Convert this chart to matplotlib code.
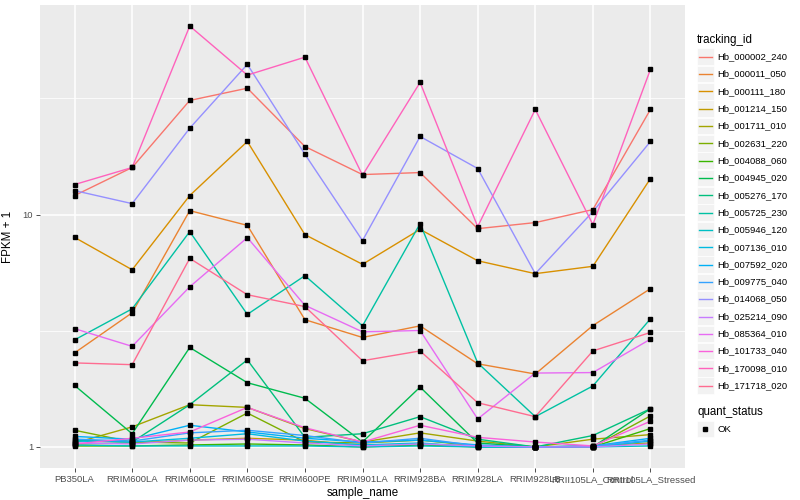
import matplotlib
matplotlib.use("Agg")
import matplotlib.pyplot as plt
from matplotlib.lines import Line2D
from matplotlib.patches import Rectangle
import numpy as np

plt.rcParams['font.family'] = ['Liberation Sans', 'DejaVu Sans']

samples = ["PB350LA", "RRIM600LA", "RRIM600LE", "RRIM600SE", "RRIM600PE", "RRIM901LA",
           "RRIM928BA", "RRIM928LA", "RRIM928LB", "RRII105LA_Control", "RRII105LA_Stressed"]

tracking_ids = ["Hb_000002_240", "Hb_000011_050", "Hb_000111_180", "Hb_001214_150",
                "Hb_001711_010", "Hb_002631_220", "Hb_004088_060", "Hb_004945_020",
                "Hb_005276_170", "Hb_005725_230", "Hb_005946_120", "Hb_007136_010",
                "Hb_007592_020", "Hb_009775_040", "Hb_014068_050", "Hb_025214_090",
                "Hb_085364_010", "Hb_101733_040", "Hb_170098_010", "Hb_171718_020"]

colors = ["#F8766D", "#EA8331", "#D89000", "#C09B00", "#A3A500", "#7CAE00", "#39B600",
          "#00BB4E", "#00BF7D", "#00C1A3", "#00BFC4", "#00BAE0", "#00B0F6", "#35A2FF",
          "#9590FF", "#C77CFF", "#E76BF3", "#FA62DB", "#FF62BC", "#FF6C91"]

# FPKM + 1 values
Hb_000002_240 = [12.08, 15.95, 31.0, 35.0, 19.64, 14.87, 15.17, 8.70, 9.24, 10.51, 28.35]
Hb_000011_050 = [2.54, 3.78, 10.40, 8.99, 3.53, 2.96, 3.32, 2.28, 2.06, 3.33, 4.80]
Hb_000111_180 = [7.98, 5.79, 12.08, 20.64, 8.20, 6.11, 8.64, 6.33, 5.57, 5.99, 14.29]
Hb_001214_150 = [1.03, 1.04, 1.07, 1.09, 1.07, 1.01, 1.03, 1.01, 1.00, 1.01, 1.04]
Hb_001711_010 = [1.04, 1.22, 1.52, 1.48, 1.20, 1.05, 1.15, 1.06, 1.00, 1.08, 1.13]
Hb_002631_220 = [1.18, 1.05, 1.04, 1.40, 1.05, 1.04, 1.07, 1.01, 1.00, 1.00, 1.36]
Hb_004088_060 = [1.01, 1.01, 1.02, 1.03, 1.02, 1.00, 1.02, 1.00, 1.00, 1.00, 1.20]
Hb_004945_020 = [1.84, 1.14, 2.68, 1.89, 1.62, 1.05, 1.81, 1.04, 1.00, 1.00, 1.46]
Hb_005276_170 = [1.07, 1.05, 1.52, 2.37, 1.10, 1.14, 1.35, 1.08, 1.00, 1.12, 1.46]
Hb_005725_230 = [2.89, 3.93, 8.45, 3.72, 5.46, 3.32, 9.15, 2.30, 1.35, 1.83, 3.56]
Hb_005946_120 = [1.02, 1.01, 1.01, 1.01, 1.01, 1.00, 1.01, 1.00, 1.00, 1.00, 1.01]
Hb_007136_010 = [1.06, 1.05, 1.09, 1.14, 1.06, 1.02, 1.04, 1.00, 1.00, 1.00, 1.06]
Hb_007592_020 = [1.11, 1.08, 1.24, 1.16, 1.09, 1.05, 1.07, 1.02, 1.00, 1.01, 1.09]
Hb_009775_040 = [1.08, 1.06, 1.15, 1.18, 1.12, 1.04, 1.09, 1.01, 1.00, 1.01, 1.07]
Hb_014068_050 = [12.69, 11.15, 23.55, 44.32, 18.19, 7.73, 21.69, 15.79, 5.57, 10.30, 20.64]
Hb_025214_090 = [1.04, 1.03, 1.07, 1.08, 1.04, 1.01, 1.03, 1.01, 1.00, 1.00, 1.03]
Hb_085364_010 = [3.23, 2.71, 4.89, 7.96, 4.07, 3.13, 3.17, 1.32, 2.08, 2.09, 2.91]
Hb_101733_040 = [1.03, 1.09, 1.16, 1.48, 1.21, 1.05, 1.24, 1.10, 1.05, 1.01, 1.29]
Hb_170098_010 = [13.47, 15.95, 64.8, 39.85, 47.6, 14.77, 37.07, 8.88, 28.35, 9.06, 42.17]
Hb_171718_020 = [2.30, 2.26, 6.48, 4.52, 4.02, 2.35, 2.59, 1.55, 1.35, 2.59, 3.11]

series = [Hb_000002_240, Hb_000011_050, Hb_000111_180, Hb_001214_150, Hb_001711_010,
          Hb_002631_220, Hb_004088_060, Hb_004945_020, Hb_005276_170, Hb_005725_230,
          Hb_005946_120, Hb_007136_010, Hb_007592_020, Hb_009775_040, Hb_014068_050,
          Hb_025214_090, Hb_085364_010, Hb_101733_040, Hb_170098_010, Hb_171718_020]

W, H = 800, 500
fig = plt.figure(figsize=(8, 5), dpi=100)
L, R, T, B = 40, 685, 5, 468
ax = fig.add_axes([L / W, 1 - B / H, (R - L) / W, (B - T) / H])
ax.set_facecolor("#EBEBEB")
for s in ax.spines.values():
    s.set_visible(False)

x = np.arange(len(samples))
for vals, c in zip(series, colors):
    ax.plot(x, vals, color=c, lw=1.0, zorder=3, solid_capstyle='butt')
for vals in series:
    ax.plot(x, vals, ls='none', marker='s', ms=2.7, color='black', zorder=4)

ax.set_yscale('log')
lo, hi = np.log10(1.0), np.log10(max(max(v) for v in series))
pad = (hi - lo) * 0.05
ax.set_ylim(10 ** (lo - pad), 10 ** (hi + pad))
ax.set_xlim(-0.6, len(samples) - 1 + 0.6)
ax.set_yticks([1, 10])
ax.set_yticklabels(["1", "10"])
ax.set_yticks([10 ** 0.5, 10 ** 1.5], minor=True)
ax.yaxis.set_minor_formatter(matplotlib.ticker.NullFormatter())
ax.set_xticks(x)
ax.set_xticklabels(samples)
ax.grid(True, which='major', color='white', lw=1.1, zorder=0)
ax.grid(True, which='minor', axis='y', color='white', lw=0.55, zorder=0)
ax.set_axisbelow(True)
ax.tick_params(axis='both', which='major', length=3, width=0.6, color='#333333',
               labelsize=6.8, labelcolor='#4D4D4D', pad=2)
ax.tick_params(axis='y', which='minor', length=0)
ax.set_xlabel("sample_name", fontsize=8.3, labelpad=2)
ax.set_ylabel("FPKM + 1", fontsize=8.3, labelpad=6)

# legend
lg = fig.add_axes([0, 0, 1, 1], facecolor='none')
lg.set_xlim(0, W)
lg.set_ylim(H, 0)
lg.axis('off')
lg.text(697, 40, "tracking_id", fontsize=8.3, va='center', ha='left')
y0, dy = 56.7, 17.32
for i, (name, c) in enumerate(zip(tracking_ids, colors)):
    yy = y0 + i * dy
    lg.add_patch(Rectangle((697, yy - 8.3), 16.6, 16.6, facecolor='#F2F2F2', edgecolor='white', lw=0.5))
    lg.add_line(Line2D([698.5, 711.5], [yy, yy], color=c, lw=1.0))
    lg.text(717, yy, name, fontsize=6.8, va='center', ha='left')
lg.text(697, 412, "quant_status", fontsize=8.3, va='center', ha='left')
lg.add_patch(Rectangle((697, 429 - 8.3), 16.6, 16.6, facecolor='#F2F2F2', edgecolor='white', lw=0.5))
lg.plot([705], [429], marker='s', ms=2.7, color='black')
lg.text(717, 429, "OK", fontsize=6.8, va='center', ha='left')

fig.savefig("out.png", dpi=100)
